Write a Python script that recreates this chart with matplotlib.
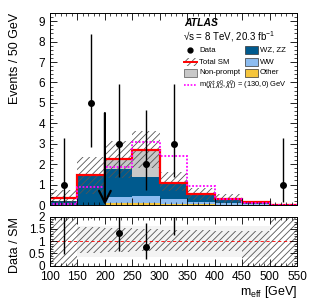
import numpy as np
import matplotlib
matplotlib.use('Agg')
import matplotlib.pyplot as plt
import matplotlib.ticker as ticker
from matplotlib.patches import Rectangle
from matplotlib.lines import Line2D

plt.rcParams['font.family'] = ['Liberation Sans', 'DejaVu Sans']
plt.rcParams['mathtext.fontset'] = 'custom'
plt.rcParams['mathtext.rm'] = 'Liberation Sans'
plt.rcParams['mathtext.it'] = 'Liberation Sans:italic'
plt.rcParams['hatch.linewidth'] = 0.6

# bins of m_eff (GeV)
edges = np.arange(100, 551, 50)
centers = edges[:-1] + 25

# stacked backgrounds (events / 50 GeV), bottom to top
other = [0, 0, 0.10, 0.08, 0.05, 0.03, 0.02, 0.01, 0]
ww = [0, 0, 0.27, 0.34, 0.23, 0.12, 0.08, 0.02, 0]
wzzz = [0.20, 1.46, 1.37, 0.96, 0.82, 0.39, 0.21, 0.10, 0.02]
nonprompt = [0, 0, 0.49, 1.29, 0, 0, 0, 0, 0]
total_sm = [0.36, 1.46, 2.23, 2.67, 1.10, 0.54, 0.31, 0.15, 0.02]
unc_lo = [0.0, 0.55, 1.30, 1.80, 0.70, 0.25, 0.10, 0.05, 0.0]
unc_hi = [0.75, 2.35, 3.15, 3.60, 1.62, 0.82, 0.54, 0.22, 0.05]
signal = [0.05, 0.90, 1.88, 3.08, 2.38, 0.92, 0.30, 0.10, 0.02]

# data with asymmetric errors
data = [1, 5, 3, 2, 3, 0, 0, 0, 1]
data_lo = [0.17, 2.84, 1.37, 0.71, 1.37, 0, 0, 0, 0.17]
data_hi = [3.30, 8.38, 5.92, 4.64, 5.92, 0, 0, 0, 3.30]

# ratio panel uncertainty band
r_lo = [0.0, 0.52, 0.55, 0.60, 0.60, 0.60, 0.60, 0.0, 0.0]
r_hi = [2.0, 1.57, 1.53, 1.48, 1.45, 1.45, 1.42, 1.40, 2.0]

c_wz = '#005a8e'
c_ww = '#8cbcf0'
c_np = '#c8c8c8'
c_oth = '#f5c53c'

fig = plt.figure(figsize=(3.16, 3.03), dpi=100)
ax = fig.add_axes([50/316, 1-205/303, 247/316, 192/303])
rax = fig.add_axes([50/316, 1-265.7/303, 247/316, 49/303])

# stacked histograms
bottom = np.zeros(len(centers))
for vals, col in [(other, c_oth), (ww, c_ww), (wzzz, c_wz), (nonprompt, c_np)]:
    ax.bar(edges[:-1], vals, width=50, bottom=bottom, align='edge', color=col,
           edgecolor='none', linewidth=0)
    bottom += np.array(vals)
ax.stairs(bottom, edges, color='#333333', lw=0.4)

# uncertainty hatch
ax.bar(edges[:-1], np.array(unc_hi) - np.array(unc_lo), width=50, bottom=unc_lo,
       align='edge', fill=False, hatch='/////', edgecolor='#555555', linewidth=0)

# total SM and signal
ax.stairs(total_sm, edges, color='red', lw=1.6)
ax.stairs(signal, edges, color='#ff00ff', lw=1.3, linestyle=(0, (1, 1)))

# data
d = np.array(data, float)
mask = d > 0
ax.errorbar(centers[mask], d[mask],
            yerr=[d[mask] - np.array(data_lo)[mask], np.array(data_hi)[mask] - d[mask]],
            fmt='o', color='black', ms=4, lw=1, capsize=0)

# cut arrow
ax.annotate('', xy=(200, 0), xytext=(200, 4.5),
            arrowprops=dict(arrowstyle='->,head_length=0.7,head_width=0.35',
                            lw=1.6, color='black', mutation_scale=12,
                            shrinkA=0, shrinkB=0))

ax.set_xlim(100, 550)
ax.set_ylim(0, 9.4)
ax.xaxis.set_major_locator(ticker.MultipleLocator(50))
ax.xaxis.set_minor_locator(ticker.MultipleLocator(10))
ax.yaxis.set_major_locator(ticker.MultipleLocator(1))
ax.yaxis.set_minor_locator(ticker.MultipleLocator(0.2))
ax.tick_params(axis='x', labelbottom=False)

# ratio panel
rax.bar(edges[1:8], [1.62 - 0.35] * 7, width=50, bottom=0.35, align='edge',
        color='#f3f3f3', edgecolor='none')
rax.bar(edges[:-1], np.array(r_hi) - np.array(r_lo), width=50, bottom=r_lo,
        align='edge', fill=False, hatch='/////', edgecolor='#555555', linewidth=0)
rax.axhline(1, color='red', lw=0.6, ls=(0, (4, 3)))
tot = np.array(total_sm)
ratio = d[mask] / tot[mask]
rlo = np.array(data_lo)[mask] / tot[mask]
rhi = np.array(data_hi)[mask] / tot[mask]
rax.errorbar(centers[mask], ratio, yerr=[ratio - rlo, rhi - ratio],
             fmt='o', color='black', ms=4, lw=1, capsize=0)
rax.set_xlim(100, 550)
rax.set_ylim(0, 2)
rax.xaxis.set_major_locator(ticker.MultipleLocator(50))
rax.xaxis.set_minor_locator(ticker.MultipleLocator(10))
rax.yaxis.set_major_locator(ticker.MultipleLocator(0.5))
rax.yaxis.set_minor_locator(ticker.MultipleLocator(0.1))
rax.yaxis.set_major_formatter(ticker.FuncFormatter(lambda v, p: f'{v:g}'))

for a in (ax, rax):
    a.tick_params(which='both', direction='in', top=True, right=True, labelsize=8.5)
    a.tick_params(which='major', length=5, width=0.6)
    a.tick_params(which='minor', length=2.5, width=0.5)
    for s in a.spines.values():
        s.set_linewidth(0.7)
    a.set_axisbelow(False)
rax.tick_params(axis='x', pad=4)

fig.text(15/316, 1-13/303, 'Events / 50 GeV', rotation=90, ha='center', va='top', fontsize=9)
fig.text(15/316, 1-217/303, 'Data / SM', rotation=90, ha='center', va='top', fontsize=9)
fig.text(297/316, 1-292/303, r'm$_{\rm eff}$ [GeV]', ha='right', va='center', fontsize=9)

# labels and legend
fig.text(184/316, 1-23/303, 'ATLAS', fontsize=7.5, fontweight='bold', style='italic', va='center')
fig.text(183/316, 1-37/303, '\u221as = 8 TeV, 20.3 fb$^{-1}$', fontsize=7, va='center')

fs = 5.6
def box(x0, y, **kw):
    fig.patches.append(Rectangle((x0/316, 1-(y+4)/303), 13/316, 8/303,
                                 transform=fig.transFigure, figure=fig, **kw))

fig.lines.append(Line2D([190/316], [1-50/303], marker='o', color='black', ms=3.5,
                        transform=fig.transFigure))
fig.text(199/316, 1-50/303, 'Data', fontsize=fs, va='center')
box(184, 62, facecolor='white', edgecolor='#555555', hatch='/////', lw=0)
fig.lines.append(Line2D([184/316, 197/316], [1-62/303, 1-62/303], color='red', lw=1.4,
                        transform=fig.transFigure))
fig.text(199/316, 1-62/303, 'Total SM', fontsize=fs, va='center')
box(184, 73, facecolor=c_np, edgecolor='#555555', lw=0.5)
fig.text(199/316, 1-73/303, 'Non-prompt', fontsize=fs, va='center')
fig.lines.append(Line2D([184/316, 197/316], [1-85/303, 1-85/303], color='#ff00ff', lw=1.2,
                        ls=(0, (1, 1)), transform=fig.transFigure))
fig.text(199/316, 1-85/303,
         r'm($\tilde{\chi}_1^{\pm}\tilde{\chi}_2^0,\tilde{\chi}_1^0$) = (130,0) GeV',
         fontsize=5.4, va='center')
box(245, 50, facecolor=c_wz, edgecolor='#333333', lw=0.5)
fig.text(260/316, 1-50/303, 'WZ, ZZ', fontsize=fs, va='center')
box(245, 62, facecolor=c_ww, edgecolor='#333333', lw=0.5)
fig.text(260/316, 1-62/303, 'WW', fontsize=fs, va='center')
box(245, 73, facecolor=c_oth, edgecolor='#333333', lw=0.5)
fig.text(260/316, 1-73/303, 'Other', fontsize=fs, va='center')

fig.savefig('out.png', dpi=100)
